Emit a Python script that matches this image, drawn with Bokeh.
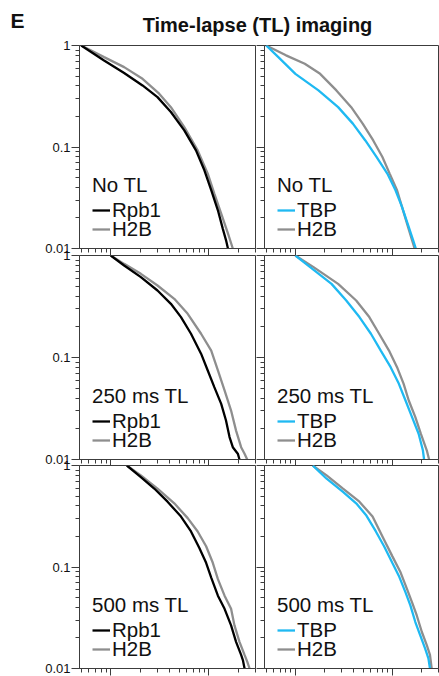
from bokeh.plotting import figure
from bokeh.layouts import column, row
from bokeh.models import (Range1d, FixedTicker, CustomJSTickFormatter, Legend,
                          LegendItem, Label)
from bokeh.embed import file_html
from bokeh.resources import INLINE

# ---------------- data ----------------
panel_titles = ["No TL", "250 ms TL", "500 ms TL"]
left_names = ["Rpb1", "H2B"]
right_names = ["TBP", "H2B"]

# No TL, left: Rpb1 vs H2B
notl_rpb1_t = [0.5, 0.855, 1.37, 2.11, 3.0, 4.11, 5.63, 7.41, 9.03, 10.6, 12.4, 13.9, 15.0, 15.7]
notl_rpb1_s = [1.0, 0.711, 0.535, 0.404, 0.310, 0.221, 0.146, 0.0927, 0.059, 0.0375, 0.0238, 0.0157, 0.0121, 0.010]
notl_h2bL_t = [0.5, 0.855, 1.37, 2.11, 3.12, 4.11, 5.63, 7.71, 9.77, 11.4, 13.4, 15.7, 17.6]
notl_h2bL_s = [1.0, 0.768, 0.612, 0.470, 0.335, 0.247, 0.157, 0.0927, 0.0547, 0.0348, 0.0221, 0.0141, 0.010]
# No TL, right: TBP vs H2B
notl_tbp_t = [0.5, 0.667, 1.0, 1.73, 2.76, 3.92, 5.27, 6.87, 8.89, 10.8, 12.6, 14.4, 16.4, 17.5]
notl_tbp_s = [1.0, 0.768, 0.526, 0.361, 0.247, 0.170, 0.116, 0.0798, 0.0547, 0.0375, 0.0257, 0.0176, 0.0121, 0.010]
notl_h2bR_t = [0.5, 0.80, 1.25, 1.80, 2.65, 3.77, 4.95, 6.36, 7.91, 9.40, 11.2, 12.6, 14.2, 16.0, 17.0]
notl_h2bR_s = [1.0, 0.80, 0.66, 0.526, 0.361, 0.247, 0.170, 0.116, 0.0798, 0.0547, 0.0375, 0.0257, 0.0176, 0.0121, 0.010]

# 250 ms TL
tl250_rpb1_t = [1.0, 1.37, 2.03, 3.0, 4.11, 5.21, 6.59, 8.35, 9.77, 11.4, 13.4, 15.0, 16.3, 17.6, 19.8, 20.6]
tl250_rpb1_s = [1.0, 0.798, 0.613, 0.454, 0.336, 0.249, 0.171, 0.109, 0.0746, 0.0512, 0.0351, 0.0241, 0.0166, 0.0132, 0.0114, 0.010]
tl250_h2bL_t = [1.0, 1.37, 2.03, 3.0, 4.45, 6.10, 8.35, 10.6, 12.4, 14.5, 16.9, 19.0, 21.4, 23.2, 24.7]
tl250_h2bL_s = [1.0, 0.828, 0.661, 0.508, 0.376, 0.268, 0.171, 0.117, 0.0746, 0.0475, 0.0302, 0.0192, 0.0132, 0.0114, 0.010]
tl250_tbp_t = [1.0, 1.42, 2.36, 3.35, 4.58, 6.02, 7.61, 9.62, 11.7, 13.7, 16.0, 18.7, 20.7, 21.3]
tl250_tbp_s = [1.0, 0.769, 0.527, 0.362, 0.249, 0.171, 0.117, 0.0804, 0.0552, 0.0379, 0.0260, 0.0179, 0.0123, 0.010]
tl250_h2bR_t = [1.0, 1.54, 2.76, 4.24, 5.79, 7.32, 9.25, 11.2, 13.1, 14.8, 17.3, 19.7, 22.7, 24.0]
tl250_h2bR_s = [1.0, 0.769, 0.527, 0.362, 0.249, 0.171, 0.117, 0.0804, 0.0552, 0.0379, 0.0260, 0.0179, 0.0123, 0.010]

# 500 ms TL
tl500_rpb1_t = [1.46, 2.03, 2.78, 3.80, 5.21, 6.59, 8.02, 9.40, 10.6, 12.4, 14.5, 16.9, 19.0, 21.4, 22.3, 23.2]
tl500_rpb1_s = [1.0, 0.770, 0.593, 0.440, 0.314, 0.224, 0.154, 0.110, 0.0787, 0.0522, 0.0387, 0.0266, 0.0183, 0.0136, 0.0121, 0.010]
tl500_h2bL_t = [1.46, 2.03, 3.0, 4.45, 6.10, 7.71, 9.40, 11.0, 12.4, 14.5, 16.9, 18.3, 20.6, 23.2, 24.7, 26.1]
tl500_h2bL_s = [1.0, 0.80, 0.593, 0.424, 0.303, 0.224, 0.160, 0.110, 0.0759, 0.0522, 0.0387, 0.0266, 0.0183, 0.0136, 0.0117, 0.010]
tl500_tbp_t = [1.51, 2.10, 3.10, 4.24, 5.35, 6.77, 8.23, 10.0, 11.7, 13.7, 15.4, 17.3, 19.4, 21.8, 23.6, 24.5]
tl500_tbp_s = [1.0, 0.741, 0.550, 0.424, 0.326, 0.224, 0.160, 0.110, 0.0817, 0.0562, 0.0417, 0.0287, 0.0213, 0.0158, 0.0126, 0.010]
tl500_h2bR_t = [1.51, 2.10, 3.10, 4.58, 6.26, 8.23, 10.0, 12.2, 14.2, 16.0, 17.9, 20.2, 22.7, 24.5, 25.5]
tl500_h2bR_s = [1.0, 0.80, 0.593, 0.440, 0.314, 0.186, 0.128, 0.0881, 0.0606, 0.0449, 0.0333, 0.0229, 0.0170, 0.0136, 0.010]

x_major = [1, 10]
x_minor = [0.5, 0.6, 0.7, 0.8, 0.9, 2, 3, 4, 5, 6, 7, 8, 9, 20, 30]
y_major = [0.01, 0.1, 1]
y_minor = [m * 0.01 for m in range(2, 10)] + [m * 0.1 for m in range(2, 10)]

BLACK = "#000000"
GRAY = "#8e8e8e"
BLUE = "#1fb9f2"
AXC = "#3c3c3c"
FONT = "Liberation Sans"

panels = [
    [(notl_rpb1_t, notl_rpb1_s, notl_h2bL_t, notl_h2bL_s),
     (notl_tbp_t, notl_tbp_s, notl_h2bR_t, notl_h2bR_s)],
    [(tl250_rpb1_t, tl250_rpb1_s, tl250_h2bL_t, tl250_h2bL_s),
     (tl250_tbp_t, tl250_tbp_s, tl250_h2bR_t, tl250_h2bR_s)],
    [(tl500_rpb1_t, tl500_rpb1_s, tl500_h2bL_t, tl500_h2bL_s),
     (tl500_tbp_t, tl500_tbp_s, tl500_h2bR_t, tl500_h2bR_s)],
]

row_borders = [(9, 7), (8, 7), (8, 8)]
row_heights = [219, 219, 219]


def style_legend(leg):
    leg.border_line_color = None
    leg.background_fill_alpha = 0
    leg.padding = 0
    leg.margin = 0
    leg.spacing = 0
    leg.glyph_width = 18
    leg.glyph_height = 22
    leg.label_height = 22
    leg.label_standoff = 2
    leg.label_text_font = FONT
    leg.label_text_font_size = "20.5px"
    leg.label_text_color = "#111111"
    leg.title_text_font = FONT
    leg.title_text_font_size = "20.5px"
    leg.title_text_font_style = "normal"
    leg.title_text_color = "#111111"
    leg.title_standoff = 1


def make_panel(r, c):
    left = (c == 0)
    top, bottom = row_borders[r]
    p = figure(width=256 if left else 183, height=row_heights[r],
               x_axis_type="log", y_axis_type="log",
               x_range=Range1d(0.48, 30), y_range=Range1d(0.01, 1),
               output_backend="svg", toolbar_location=None,
               min_border_left=79 if left else 8, min_border_right=1,
               min_border_top=top, min_border_bottom=bottom)
    p.border_fill_color = None
    p.background_fill_color = None
    p.outline_line_color = AXC
    p.outline_line_width = 1
    p.grid.visible = False

    xa = p.xaxis[0]
    xa.ticker = FixedTicker(ticks=x_major, minor_ticks=x_minor)
    xa.formatter = CustomJSTickFormatter(code="return ''")
    xa.major_label_text_font_size = "0px"
    xa.major_label_standoff = 0
    xa.major_tick_out = 7
    xa.major_tick_in = 0
    xa.minor_tick_out = 4
    xa.minor_tick_in = 0
    xa.axis_line_color = AXC
    xa.major_tick_line_color = AXC
    xa.minor_tick_line_color = AXC

    ya = p.yaxis[0]
    ya.ticker = FixedTicker(ticks=y_major, minor_ticks=y_minor)
    if left:
        ya.formatter = CustomJSTickFormatter(
            code="return tick >= 1 ? tick.toFixed(0) : (tick >= 0.1 ? tick.toFixed(1) : tick.toFixed(2))")
        ya.major_label_text_font_size = "13px"
        ya.major_label_text_font = FONT
        ya.major_label_text_color = "#111111"
        ya.major_label_standoff = 1
    else:
        ya.formatter = CustomJSTickFormatter(code="return ''")
        ya.major_label_text_font_size = "0px"
        ya.major_label_standoff = 0
    ya.major_tick_out = 8
    ya.major_tick_in = 0
    ya.minor_tick_out = 4
    ya.minor_tick_in = 0
    ya.axis_line_color = AXC
    ya.major_tick_line_color = AXC
    ya.minor_tick_line_color = AXC

    t1, s1, t2, s2 = panels[r][c]
    g = p.line(t2, s2, line_color=GRAY, line_width=2.3)
    m = p.line(t1, s1, line_color=BLACK if left else BLUE, line_width=2.3)
    names = left_names if left else right_names
    leg_a = Legend(items=[LegendItem(label=names[0], renderers=[m])],
                   title=panel_titles[r], location=(13, 26))
    leg_b = Legend(items=[LegendItem(label=names[1], renderers=[g])],
                   location=(13, 7))
    style_legend(leg_a)
    style_legend(leg_b)
    p.add_layout(leg_a)
    p.add_layout(leg_b)
    return p


grid = [[make_panel(r, c) for c in range(2)] for r in range(3)]

TITLE_H = 60
tf = figure(width=439, height=TITLE_H, x_range=Range1d(0, 439), y_range=Range1d(TITLE_H, 0),
            output_backend="svg", toolbar_location=None, min_border=0, title=None,
            x_axis_location=None, y_axis_location=None)
tf.grid.visible = False
tf.outline_line_color = None
tf.border_fill_color = None
tf.background_fill_color = None
tf.add_layout(Label(x=10, y=20, text="E", text_font=FONT, text_font_style="bold",
                    text_font_size="21px", text_baseline="alphabetic", text_color="#111111"))
tf.add_layout(Label(x=257, y=24, text="Time-lapse (TL) imaging", text_font=FONT,
                    text_font_style="bold", text_font_size="20px", text_align="center",
                    text_baseline="alphabetic", text_color="#111111"))

layout = column(
    tf,
    row(grid[0][0], grid[0][1], margin=(36 - TITLE_H, 0, 0, 0)),
    row(grid[1][0], grid[1][1], margin=(-8, 0, 0, 0)),
    row(grid[2][0], grid[2][1], margin=(-9, 0, 0, 0)),
)

open("out.html", "w").write(file_html(layout, INLINE))
